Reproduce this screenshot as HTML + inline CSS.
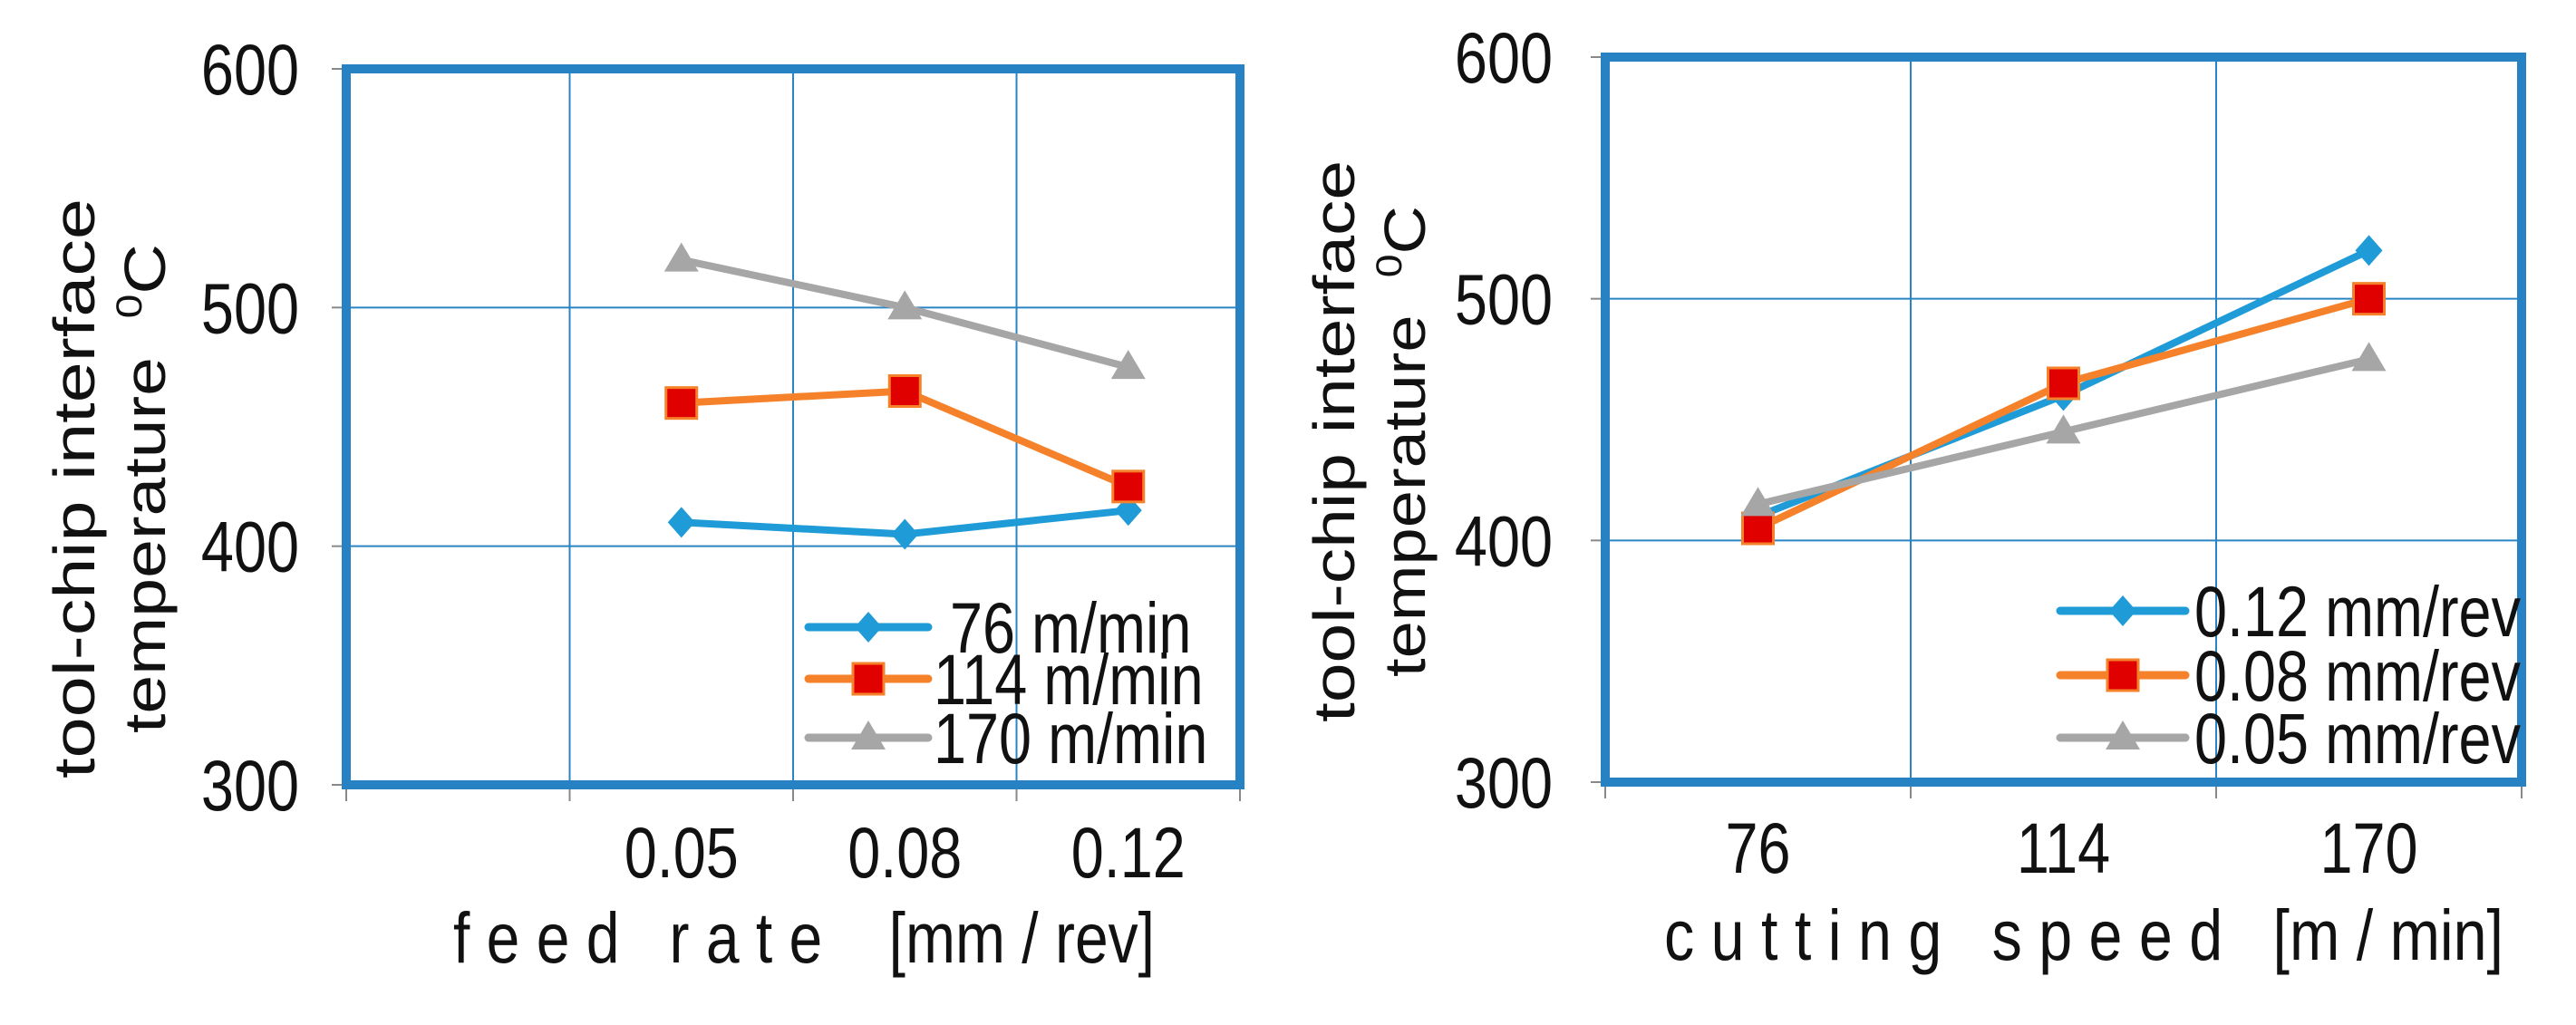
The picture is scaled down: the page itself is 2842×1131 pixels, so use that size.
<!DOCTYPE html>
<html><head><meta charset="utf-8">
<style>
html,body{margin:0;padding:0;background:#fff;overflow:hidden;}
svg{display:block;}
text{font-family:"Liberation Sans",sans-serif;fill:#111;white-space:pre;}
</style></head>
<body>
<svg id="svg" width="2842" height="1131" viewBox="0 0 2842 1131" xmlns="http://www.w3.org/2000/svg"></svg>
<script>
// Left chart data
const leftCategories = ["", "0.05", "0.08", "0.12"];
const leftSeriesNames = [" 76 m/min", "114 m/min", "170 m/min"];
const leftS76 = [null, 410, 405, 415];
const leftS114 = [null, 460, 465, 425];
const leftS170 = [null, 520, 500, 475];
// Right chart data
const rightCategories = ["76", "114", "170"];
const rightSeriesNames = ["0.12 mm/rev", "0.08 mm/rev", "0.05 mm/rev"];
const rightS012 = [410, 460, 520];
const rightS008 = [405, 465, 500];
const rightS005 = [415, 445, 475];
const yTicks = [300, 400, 500, 600];

const NS = "http://www.w3.org/2000/svg";
const svg = document.getElementById('svg');
function mk(tag, attrs, parent) {
  const e = document.createElementNS(NS, tag);
  for (const k in attrs) e.setAttribute(k, attrs[k]);
  (parent || svg).appendChild(e);
  return e;
}
const COLORS = ["#1f9bd7", "#f5822a", "#a6a6a6"];
const MARKS = ["diamond", "square", "triangle"];
const FS = 79, SX = 0.82;

function txt(g, x, y, s, anchor, size, sx) {
  const t = mk('text', {transform: `translate(${x},${y}) scale(${sx},1)`, x: 0, y: 0, 'text-anchor': anchor, 'font-size': size}, g);
  t.textContent = s;
  return t;
}

function marker(g, type, cx, cy) {
  let m;
  if (type === "diamond") {
    m = mk('polygon', {points: `${cx},${cy-17} ${cx+15},${cy} ${cx},${cy+17} ${cx-15},${cy}`, fill: "#1f9bd7"}, g);
  } else if (type === "square") {
    m = mk('rect', {x: cx-17, y: cy-17, width: 34, height: 34, fill: "#e00000", stroke: "#f5822a", 'stroke-width': 3}, g);
  } else {
    m = mk('polygon', {points: `${cx},${cy-19} ${cx+19},${cy+13} ${cx-19},${cy+13}`, fill: "#a6a6a6"}, g);
  }
  
  
}

function chart(cfg) {
  const g = mk('g', {});
  
  
  const n = cfg.categories.length;
  const slot = (cfg.x1 - cfg.x0) / n;
  const xOf = i => cfg.x0 + slot * (i + 0.5);
  const yOf = v => cfg.yb - (v - 300) / 300 * (cfg.yb - cfg.yt);
  for (let i = 1; i < n; i++) {
    const x = cfg.x0 + slot * i;
    const l = mk('line', {x1: x, x2: x, y1: cfg.yt, y2: cfg.yb, stroke: "#2a84c4", 'stroke-width': 2}, g);
    
    
  }
  yTicks.forEach(v => {
    const y = yOf(v);
    if (v > 300 && v < 600) {
      const l = mk('line', {x1: cfg.x0, x2: cfg.x1, y1: y, y2: y, stroke: "#2a84c4", 'stroke-width': 2}, g);
      
      
    }
    mk('line', {x1: cfg.x0 - 16, x2: cfg.x0, y1: y, y2: y, stroke: "#888", 'stroke-width': 2}, g);
    const t = txt(g, cfg.ylabX, y + 28, String(v), 'end', FS, SX);
    
    
  });
  for (let i = 0; i <= n; i++) {
    const x = cfg.x0 + slot * i;
    mk('line', {x1: x, x2: x, y1: cfg.yb, y2: cfg.yb + 18, stroke: "#888", 'stroke-width': 2}, g);
  }
  cfg.categories.forEach((c, i) => {
    if (!c) return;
    const t = txt(g, xOf(i), cfg.xlabY, c, 'middle', FS, SX);
    
    
  });
  const b = mk('rect', {x: cfg.x0, y: cfg.yt, width: cfg.x1 - cfg.x0, height: cfg.yb - cfg.yt, fill: "none", stroke: "#2782c4", 'stroke-width': 10}, g);
  
  
  cfg.series.forEach((s, k) => {
    const pts = [];
    s.forEach((v, i) => { if (v !== null) pts.push([xOf(i), yOf(v)]); });
    const pl = mk('polyline', {points: pts.map(p => p.join(',')).join(' '), fill: "none", stroke: COLORS[k], 'stroke-width': 8, 'stroke-linejoin': 'round'}, g);
    
    
  });
  cfg.series.forEach((s, k) => {
    s.forEach((v, i) => { if (v !== null) marker(g, MARKS[k], xOf(i), yOf(v)); });
  });
  cfg.legendY.forEach((y, k) => {
    const l = mk('line', {x1: cfg.legX0, x2: cfg.legX1, y1: y, y2: y, stroke: COLORS[k], 'stroke-width': 9, 'stroke-linecap': 'round'}, g);
    
    
    marker(g, MARKS[k], (cfg.legX0 + cfg.legX1) / 2, y);
    const t = txt(g, cfg.legTX, y + 28, cfg.names[k], 'start', FS, SX);
    
    
  });
  const xt = mk('text', {x: cfg.xtX0, y: cfg.xtY, 'font-size': FS, textLength: cfg.xtW, lengthAdjust: 'spacingAndGlyphs'}, g);
  xt.textContent = cfg.xTitle;
  
  
  const yt = mk('g', {transform: `translate(${cfg.ytX},${cfg.ytY}) rotate(-90)`}, g);
  
  
  const l1 = mk('text', {x: -cfg.ytW / 2, y: 0, 'font-size': 64, textLength: cfg.ytW, lengthAdjust: 'spacingAndGlyphs'}, yt);
  l1.textContent = "tool-chip interface";
  const l2 = mk('text', {x: -cfg.ytW2 / 2, y: 78, 'font-size': 64, textLength: cfg.ytW2, lengthAdjust: 'spacingAndGlyphs'}, yt);
  l2.textContent = "temperature  ";
  const sup = mk('tspan', {'font-size': 40, dy: -26}, l2); sup.textContent = "0";
  const c = mk('tspan', {dy: 26}, l2); c.textContent = "C";
}

chart({name: 'feed-rate-chart', categories: leftCategories, series: [leftS76, leftS114, leftS170], names: leftSeriesNames,
  x0: 382, x1: 1368, yt: 76, yb: 866, ylabX: 330, xlabY: 968,
  legendY: [692, 749, 814], legX0: 892, legX1: 1024, legTX: 1030,
  xTitle: "f e e d   r a t e    [mm / rev]", xtX0: 500, xtW: 774, xtY: 1062, ytX: 104, ytY: 539, ytW: 640, ytW2: 540});
chart({name: 'cutting-speed-chart', categories: rightCategories, series: [rightS012, rightS008, rightS005], names: rightSeriesNames,
  x0: 1771, x1: 2782, yt: 63, yb: 863, ylabX: 1713, xlabY: 963,
  legendY: [674, 745, 814], legX0: 2273, legX1: 2411, legTX: 2421,
  xTitle: "c u t t i n g   s p e e d   [m / min]", xtX0: 1836, xtW: 926, xtY: 1059, ytX: 1494, ytY: 487, ytW: 620, ytW2: 520});
</script>
</body></html>
